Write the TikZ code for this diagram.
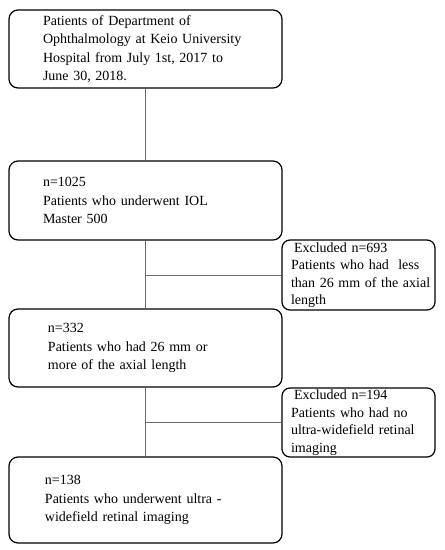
\documentclass[tikz,border=0pt]{standalone}
\usepackage{fontspec}
\setmainfont{Liberation Serif}
\usepackage{tikz}

\tikzset{
  mainbox/.style={draw=black,line width=1.2pt,rounded corners=9pt,minimum width=273pt,inner xsep=5pt,text width=263pt,inner ysep=0pt,align=left,font=\fontsize{14}{18.5}\selectfont,execute at begin node={\leftskip=#1}},
  exbox/.style={draw=black,line width=1.2pt,rounded corners=8pt,minimum width=153pt,inner xsep=1.5pt,text width=150pt,inner ysep=0pt,align=left,font=\fontsize{14}{17.5}\selectfont,execute at begin node={\leftskip=7.5pt}},
  link/.style={gray!85!black,line width=0.8pt}
}

\begin{document}
\begin{tikzpicture}[x=1pt,y=-1pt]

\useasboundingbox (0,0) rectangle (445,550);

\node [mainbox=29pt,minimum height=78pt] (start) at (145.5,49) {Patients of Department of\\Ophthalmology at Keio University\\Hospital from July 1st, 2017 to\\June 30, 2018.};

\node [mainbox=29pt,minimum height=79pt] (iol) at (145.5,200.5) {n=1025\\Patients who underwent IOL\\Master 500};

\node [mainbox=34pt,minimum height=78pt] (axial) at (145.5,348) {n=332\\Patients who had 26 mm or\\more of the axial length};

\node [mainbox=31pt,minimum height=86pt] (final) at (145.5,500) {n=138\\Patients who underwent ultra -\\widefield retinal imaging};

\node [exbox,minimum height=70pt] (exshort) at (358.5,275) {\hspace*{3pt}Excluded n=693\\Patients who had\ \ less\\than 26 mm of the axial\\length};

\node [exbox,minimum height=69pt] (exuwf) at (358.5,422.5) {\hspace*{3pt}Excluded n=194\\Patients who had no\\ultra-widefield retinal\\imaging};

\draw [link] (start.south) -- (iol.north);
\draw [link] (iol.south) -- (axial.north);
\draw [link] (axial.south) -- (final.north);
\draw [link] (exshort.west) -- (exshort.west -| iol.south);
\draw [link] (exuwf.west) -- (exuwf.west -| axial.south);

\end{tikzpicture}
\end{document}
